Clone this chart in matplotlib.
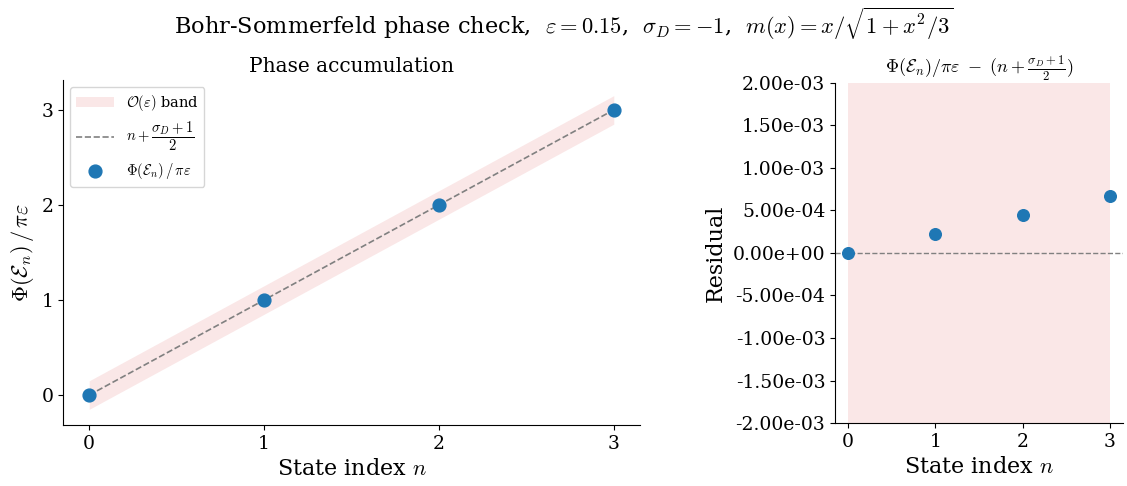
import matplotlib
matplotlib.use("Agg")
import matplotlib.pyplot as plt
import numpy as np
from matplotlib.ticker import FormatStrFormatter, MultipleLocator

plt.rcParams['font.family'] = 'DejaVu Serif'
plt.rcParams['mathtext.fontset'] = 'cm'

# data
eps = 0.15
sigma_d = -1
n_states = np.array([0, 1, 2, 3])
residual = np.array([0.0, 2.2e-4, 4.45e-4, 6.7e-4])

target = n_states + (sigma_d + 1) / 2
phase = target + residual

fig = plt.figure(figsize=(11.27, 4.86), dpi=100)
ax1 = fig.add_axes([0.0559, 0.1255, 0.512, 0.710])
ax2 = fig.add_axes([0.7409, 0.1295, 0.2555, 0.700])

band_color = '#d62728'

# ========================== left panel ==========================
ax1.fill_between(n_states, target - eps, target + eps, color=band_color,
                 alpha=0.11, lw=0, label=r'$\mathcal{O}(\varepsilon)$ band')
ax1.plot(n_states, target, '--', color='gray', lw=1.2,
         label=r'$n+\dfrac{\sigma_D+1}{2}$')
ax1.scatter(n_states, phase, s=85, color='#1f77b4', zorder=3,
            label=r'$\Phi(\mathcal{E}_n)\,/\,\pi\varepsilon$')
ax1.set_xticks(n_states)
ax1.yaxis.set_major_locator(MultipleLocator(1))
ax1.set_xlabel(r'State index $n$', fontsize=16)
ax1.set_ylabel(r'$\Phi(\mathcal{E}_n)\,/\,\pi\varepsilon$', fontsize=16)
ax1.set_title('Phase accumulation', fontsize=14.5)
ax1.tick_params(labelsize=13.5)
ax1.legend(loc='upper left', fontsize=10.5, handlelength=2.6)

# ========================== right panel ==========================
ax2.fill_between(n_states, -eps, eps, color=band_color, alpha=0.11, lw=0)
ax2.axhline(0, color='gray', ls='--', lw=1)
ax2.scatter(n_states, residual, s=70, color='#1f77b4', zorder=3)
ax2.set_ylim(-2e-3, 2e-3)
ax2.set_xticks(n_states)
ax2.yaxis.set_major_locator(MultipleLocator(5e-4))
ax2.yaxis.set_major_formatter(FormatStrFormatter('%.2e'))
ax2.set_xlabel(r'State index $n$', fontsize=16)
ax2.set_ylabel('Residual', fontsize=16)
ax2.set_title(r'$\Phi(\mathcal{E}_n)/\pi\varepsilon\ -\ (n+\frac{\sigma_D+1}{2})$', fontsize=13)
ax2.tick_params(labelsize=13.5)

for ax in (ax1, ax2):
    ax.spines['top'].set_visible(False)
    ax.spines['right'].set_visible(False)

fig.suptitle(r'Bohr-Sommerfeld phase check,  $\varepsilon=0.15$,  $\sigma_D=-1$,  '
             r'$m(x)=x/\sqrt{1+x^2/3}$', fontsize=16.2, y=0.99)

fig.savefig('out.png', dpi=100)
